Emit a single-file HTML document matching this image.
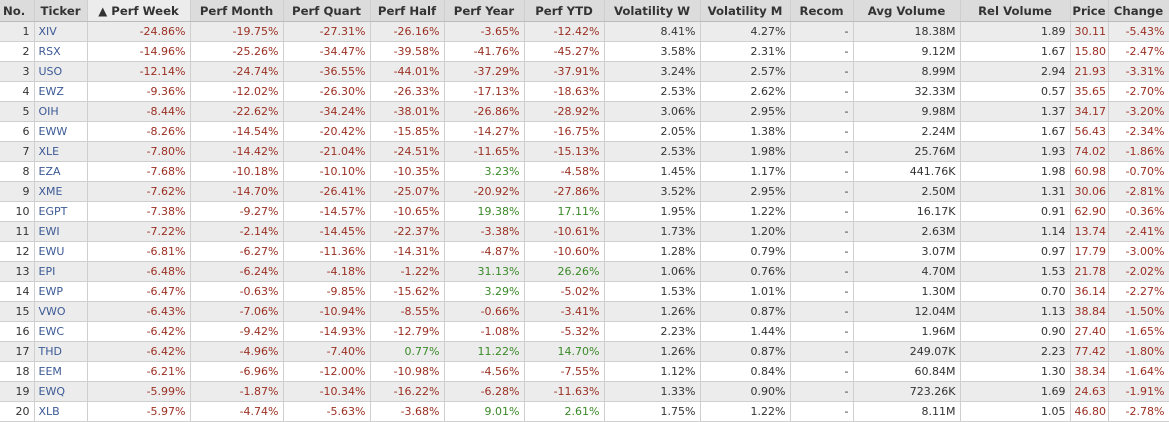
<!DOCTYPE html>
<html><head><meta charset="utf-8">
<style>
html,body{margin:0;padding:0;background:#fff;width:1169px;height:422px;overflow:hidden}
table{border-collapse:collapse;table-layout:fixed;width:1169px;font-family:"DejaVu Sans","Liberation Sans",sans-serif;font-size:11px;color:#333}
th{height:21px;background:#dcdcdc;font-weight:bold;font-size:11.7px;color:#333;text-align:center;border-right:1px solid #cfcfcf;border-bottom:1px solid #bbb;padding:0 1px;white-space:nowrap;overflow:hidden}
th.sorted{background:#ececec}
td{height:19px;border-right:1px solid #cfcfcf;border-bottom:1px solid #cfcfcf;padding:0 4px;text-align:right;white-space:nowrap;overflow:hidden}
tr.odd td{background:#ececec}
tr.even td{background:#fff}
td.tk{text-align:left;color:#3c5a96}
.neg{color:#9b2f22}.pos{color:#3a8a28}
</style></head><body>
<table>
<colgroup><col style="width:34px"><col style="width:53px"><col style="width:103px"><col style="width:93px"><col style="width:87px"><col style="width:74px"><col style="width:80px"><col style="width:80px"><col style="width:96px"><col style="width:90px"><col style="width:63px"><col style="width:107px"><col style="width:110px"><col style="width:38px"><col style="width:61px"></colgroup>
<thead><tr>
<th style="text-align:left;padding-left:3px">No.</th>
<th>Ticker</th>
<th class="sorted">&#9650; Perf Week</th>
<th>Perf Month</th>
<th>Perf Quart</th>
<th>Perf Half</th>
<th>Perf Year</th>
<th>Perf YTD</th>
<th>Volatility W</th>
<th>Volatility M</th>
<th>Recom</th>
<th>Avg Volume</th>
<th>Rel Volume</th>
<th>Price</th>
<th>Change</th>
</tr></thead>
<tbody id="tb"></tbody></table>
<script>
const tickers=["XIV","RSX","USO","EWZ","OIH","EWW","XLE","EZA","XME","EGPT","EWI","EWU","EPI","EWP","VWO","EWC","THD","EEM","EWQ","XLB"];
const perfWeek=[-24.86,-14.96,-12.14,-9.36,-8.44,-8.26,-7.80,-7.68,-7.62,-7.38,-7.22,-6.81,-6.48,-6.47,-6.43,-6.42,-6.42,-6.21,-5.99,-5.97];
const perfMonth=[-19.75,-25.26,-24.74,-12.02,-22.62,-14.54,-14.42,-10.18,-14.70,-9.27,-2.14,-6.27,-6.24,-0.63,-7.06,-9.42,-4.96,-6.96,-1.87,-4.74];
const perfQuart=[-27.31,-34.47,-36.55,-26.30,-34.24,-20.42,-21.04,-10.10,-26.41,-14.57,-14.45,-11.36,-4.18,-9.85,-10.94,-14.93,-7.40,-12.00,-10.34,-5.63];
const perfHalf=[-26.16,-39.58,-44.01,-26.33,-38.01,-15.85,-24.51,-10.35,-25.07,-10.65,-22.37,-14.31,-1.22,-15.62,-8.55,-12.79,0.77,-10.98,-16.22,-3.68];
const perfYear=[-3.65,-41.76,-37.29,-17.13,-26.86,-14.27,-11.65,3.23,-20.92,19.38,-3.38,-4.87,31.13,3.29,-0.66,-1.08,11.22,-4.56,-6.28,9.01];
const perfYTD=[-12.42,-45.27,-37.91,-18.63,-28.92,-16.75,-15.13,-4.58,-27.86,17.11,-10.61,-10.60,26.26,-5.02,-3.41,-5.32,14.70,-7.55,-11.63,2.61];
const volW=[8.41,3.58,3.24,2.53,3.06,2.05,2.53,1.45,3.52,1.95,1.73,1.28,1.06,1.53,1.26,2.23,1.26,1.12,1.33,1.75];
const volM=[4.27,2.31,2.57,2.62,2.95,1.38,1.98,1.17,2.95,1.22,1.20,0.79,0.76,1.01,0.87,1.44,0.87,0.84,0.90,1.22];
const avgVol=["18.38M","9.12M","8.99M","32.33M","9.98M","2.24M","25.76M","441.76K","2.50M","16.17K","2.63M","3.07M","4.70M","1.30M","12.04M","1.96M","249.07K","60.84M","723.26K","8.11M"];
const relVol=[1.89,1.67,2.94,0.57,1.37,1.67,1.93,1.98,1.31,0.91,1.14,0.97,1.53,0.70,1.13,0.90,2.23,1.30,1.69,1.05];
const price=[30.11,15.80,21.93,35.65,34.17,56.43,74.02,60.98,30.06,62.90,13.74,17.79,21.78,36.14,38.84,27.40,77.42,38.34,24.63,46.80];
const change=[-5.43,-2.47,-3.31,-2.70,-3.20,-2.34,-1.86,-0.70,-2.81,-0.36,-2.41,-3.00,-2.02,-2.27,-1.50,-1.65,-1.80,-1.64,-1.91,-2.78];
const tb=document.getElementById('tb');
function cell(tr,text,cls,name){
  const td=document.createElement('td');
  td.textContent=text;
  if(cls)td.className=cls;
  
  
  tr.appendChild(td);
}
function pc(v){return v.toFixed(2)+'%';}
function sc(v){return v<0?'neg':(v>0?'pos':'');}
for(let i=0;i<tickers.length;i++){
  const tr=document.createElement('tr');
  tr.className=i%2===0?'odd':'even';
  
  
  cell(tr,String(i+1),'','row-number');
  cell(tr,tickers[i],'tk','ticker-link');
  cell(tr,pc(perfWeek[i]),sc(perfWeek[i]),'perf-week');
  cell(tr,pc(perfMonth[i]),sc(perfMonth[i]),'perf-month');
  cell(tr,pc(perfQuart[i]),sc(perfQuart[i]),'perf-quart');
  cell(tr,pc(perfHalf[i]),sc(perfHalf[i]),'perf-half');
  cell(tr,pc(perfYear[i]),sc(perfYear[i]),'perf-year');
  cell(tr,pc(perfYTD[i]),sc(perfYTD[i]),'perf-ytd');
  cell(tr,pc(volW[i]),'','volatility-w');
  cell(tr,pc(volM[i]),'','volatility-m');
  cell(tr,'-','','recom');
  cell(tr,avgVol[i],'','avg-volume');
  cell(tr,relVol[i].toFixed(2),'','rel-volume');
  cell(tr,price[i].toFixed(2),sc(change[i]),'price');
  cell(tr,pc(change[i]),sc(change[i]),'change');
  tb.appendChild(tr);
}
</script>
</body></html>
